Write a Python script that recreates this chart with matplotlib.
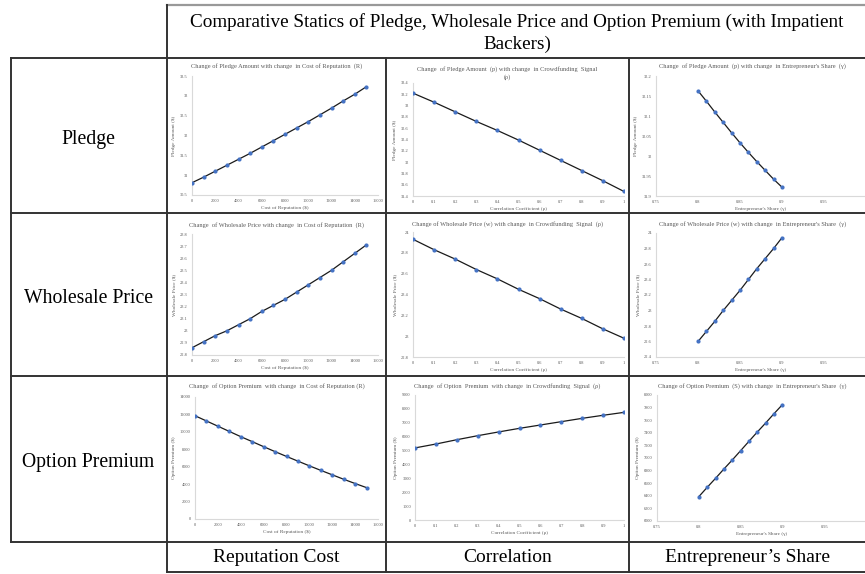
import matplotlib
matplotlib.use("Agg")
import matplotlib.pyplot as plt
from matplotlib.lines import Line2D
import numpy as np

W, H = 865, 574
plt.rcParams['font.family'] = ['Liberation Serif', 'DejaVu Serif']

# ---- data -------------------------------------------------------------
rep_cost = [0, 1000, 2000, 3000, 4000, 5000, 6000, 7000, 8000, 9000,
            10000, 11000, 12000, 13000, 14000, 15000]
rho = [0, 0.1, 0.2, 0.3, 0.4, 0.5, 0.6, 0.7, 0.8, 0.9, 1.0]
gamma = [0.80, 0.81, 0.82, 0.83, 0.84, 0.85, 0.86, 0.87, 0.88, 0.89, 0.90]

pledge_vs_R = [30.81, 30.95, 31.10, 31.25, 31.40, 31.55, 31.71, 31.87,
               32.03, 32.19, 32.35, 32.52, 32.69, 32.87, 33.04, 33.23]
pledge_vs_rho = [33.22, 33.06, 32.89, 32.72, 32.56, 32.39, 32.21, 32.03,
                 31.85, 31.67, 31.48]
pledge_vs_gamma = [32.163, 32.137, 32.110, 32.084, 32.058, 32.033, 32.009,
                   31.986, 31.964, 31.942, 31.922]

wholesale_vs_R = [22.86, 22.91, 22.96, 23.00, 23.05, 23.10, 23.16, 23.21,
                  23.26, 23.32, 23.38, 23.44, 23.50, 23.57, 23.64, 23.71]
wholesale_vs_rho = [23.93, 23.83, 23.74, 23.64, 23.55, 23.45, 23.36, 23.26,
                    23.17, 23.07, 22.98]
wholesale_vs_gamma = [22.60, 22.73, 22.86, 23.00, 23.13, 23.26, 23.40,
                      23.54, 23.67, 23.80, 23.94]

premium_vs_R = [11850, 11250, 10650, 10050, 9450, 8880, 8300, 7730, 7180,
                6640, 6100, 5580, 5070, 4560, 4070, 3600]
premium_vs_rho = [5190, 5470, 5780, 6070, 6340, 6600, 6840, 7080, 7320,
                  7540, 7750]
premium_vs_gamma = [6386, 6534, 6677, 6825, 6968, 7116, 7265, 7413, 7556,
                    7704, 7847]

row_names = ["Pledge", "Wholesale Price", "Option Premium"]
col_names = ["Reputation Cost", "Correlation", "Entrepreneur\u2019s Share"]
header = ("Comparative Statics of Pledge, Wholesale Price and Option Premium (with Impatient\n"
          "Backers)")

titles = [
    ["Change of Pledge Amount with change  in Cost of Reputation  (R)",
     "Change  of Pledge Amount  (p) with change  in Crowdfunding  Signal\n(\u03c1)",
     "Change  of Pledge Amount  (p) with change  in Entrepreneur's Share  (\u03b3)"],
    ["Change  of Wholesale Price with change  in Cost of Reputation  (R)",
     "Change of Wholesale Price (w) with change  in Crowdfunding  Signal  (\u03c1)",
     "Change of Wholesale Price (w) with change  in Entrepreneur's Share  (\u03b3)"],
    ["Change  of Option Premium  with change  in Cost of Reputation (R)",
     "Change  of Option  Premium  with change  in Crowdfunding  Signal  (\u03c1)",
     "Change of Option Premium  (S) with change  in Entrepreneur's Share  (\u03b3)"],
]
ylabels = [r"Pledge Amount (\$)", r"Wholesale Price (\$)", r"Option Premium (\$)"]
xlabels = [r"Cost of Reputation (\$)", "Correlation Coefficient (\u03c1)",
           "Entrepreneur's Share (\u03b3)"]

xs = [rep_cost, rho, gamma]
ys = [[pledge_vs_R, pledge_vs_rho, pledge_vs_gamma],
      [wholesale_vs_R, wholesale_vs_rho, wholesale_vs_gamma],
      [premium_vs_R, premium_vs_rho, premium_vs_gamma]]

x_limits = [(0, 16000), (0, 1), (0.75, 1.0)]
x_ticks = [np.arange(0, 16001, 2000), np.round(np.arange(0, 1.01, 0.1), 1),
           [0.75, 0.8, 0.85, 0.9, 0.95]]
y_ticks = [
    [np.arange(30.5, 33.51, 0.5), np.arange(31.4, 33.41, 0.2), np.arange(31.9, 32.201, 0.05)],
    [np.arange(22.8, 23.81, 0.1), np.arange(22.8, 24.01, 0.2), np.arange(22.4, 24.01, 0.2)],
    [np.arange(0, 14001, 2000), np.arange(0, 9001, 1000), np.arange(6000, 8001, 200)],
]

# ---- geometry (pixels) -----------------------------------------------
col_x = [167, 386, 629, 866]
row_y = [58, 213, 376, 542]
# plot-area boxes: (left, top, right, bottom)
boxes = [
    [(192, 76, 378, 195), (413, 83, 624, 196), (656, 76, 866, 196)],
    [(192, 234, 378, 355), (413, 232, 624, 357), (656, 233, 866, 357)],
    [(195, 397, 378, 519), (415, 395, 624, 520), (657, 395, 866, 521)],
]
title_y = [[66, 66, 66], [225, 224, 224], [386, 386, 386]]

fig = plt.figure(figsize=(W / 100, H / 100), dpi=100)
fig.patch.set_facecolor("white")

def fx(px):
    return px / W

def fy(py):
    return 1 - py / H

grey_txt = "#595959"

def fmt(v):
    s = ("%.2f" % v).rstrip("0").rstrip(".")
    return s

for r in range(3):
    for c in range(3):
        l, t, rr, b = boxes[r][c]
        ax = fig.add_axes([fx(l), fy(b), fx(rr) - fx(l), (b - t) / H])
        ax.plot(xs[c], ys[r][c], color="#1a1a1a", lw=0.9, zorder=2)
        ax.plot(xs[c], ys[r][c], ls="none", marker="o", ms=2.0,
                color="#4472C4", zorder=3)
        ax.set_xlim(*x_limits[c])
        yt = y_ticks[r][c]
        ax.set_ylim(yt[0], yt[-1])
        ax.set_yticks(yt)
        ax.set_yticklabels([fmt(v) for v in yt])
        ax.set_xticks(x_ticks[c])
        ax.set_xticklabels([fmt(v) for v in x_ticks[c]])
        for side in ("top", "right"):
            ax.spines[side].set_visible(False)
        for side in ("left", "bottom"):
            ax.spines[side].set_color("#d9d9d9")
            ax.spines[side].set_linewidth(0.8)
        ax.tick_params(length=0, labelsize=3.2, colors=grey_txt, pad=3)
        ax.set_ylabel(ylabels[r], fontsize=3.8, color=grey_txt, labelpad=3)
        ax.set_xlabel(xlabels[c], fontsize=3.8, color=grey_txt, labelpad=2)
        ax.patch.set_alpha(0)
        cx = (col_x[c] + col_x[c + 1]) / 2 + (5 if c == 2 else 0)
        fig.text(fx(cx), fy(title_y[r][c]), titles[r][c], ha="center",
                 va="top" if c == 1 and r == 0 else "center",
                 fontsize=4.6, color=grey_txt, linespacing=1.5)

# ---- table grid ------------------------------------------------------
lc = "#333333"
def hline(y, x0, x1, color=lc, lw=1.4):
    fig.add_artist(Line2D([fx(x0), fx(x1)], [fy(y), fy(y)], color=color, lw=lw))

def vline(x, y0, y1, color=lc, lw=1.4):
    fig.add_artist(Line2D([fx(x), fx(x)], [fy(y0), fy(y1)], color=color, lw=lw))

hline(5, 167, 866, color="#999999", lw=1.6)
hline(58, 11, 866)
for y in row_y[1:]:
    hline(y, 11, 866)
hline(572, 167, 866)
vline(11, 58, 542)
vline(167, 5, 572)
vline(386, 58, 572)
vline(629, 58, 572)

fig.text(fx(517), fy(33), header, ha="center", va="center", fontsize=13.8,
         linespacing=1.3, color="black")
for i, name in enumerate(row_names):
    yc = (row_y[i] + row_y[i + 1]) / 2 + 4
    fig.text(fx(88), fy(yc), name, ha="center", va="center", fontsize=14.2,
             color="black")
for i, name in enumerate(col_names):
    xc = (col_x[i] + col_x[i + 1]) / 2
    fig.text(fx(xc), fy(558), name, ha="center", va="center", fontsize=14,
             color="black")

fig.savefig("out.png", dpi=100, facecolor="white")
